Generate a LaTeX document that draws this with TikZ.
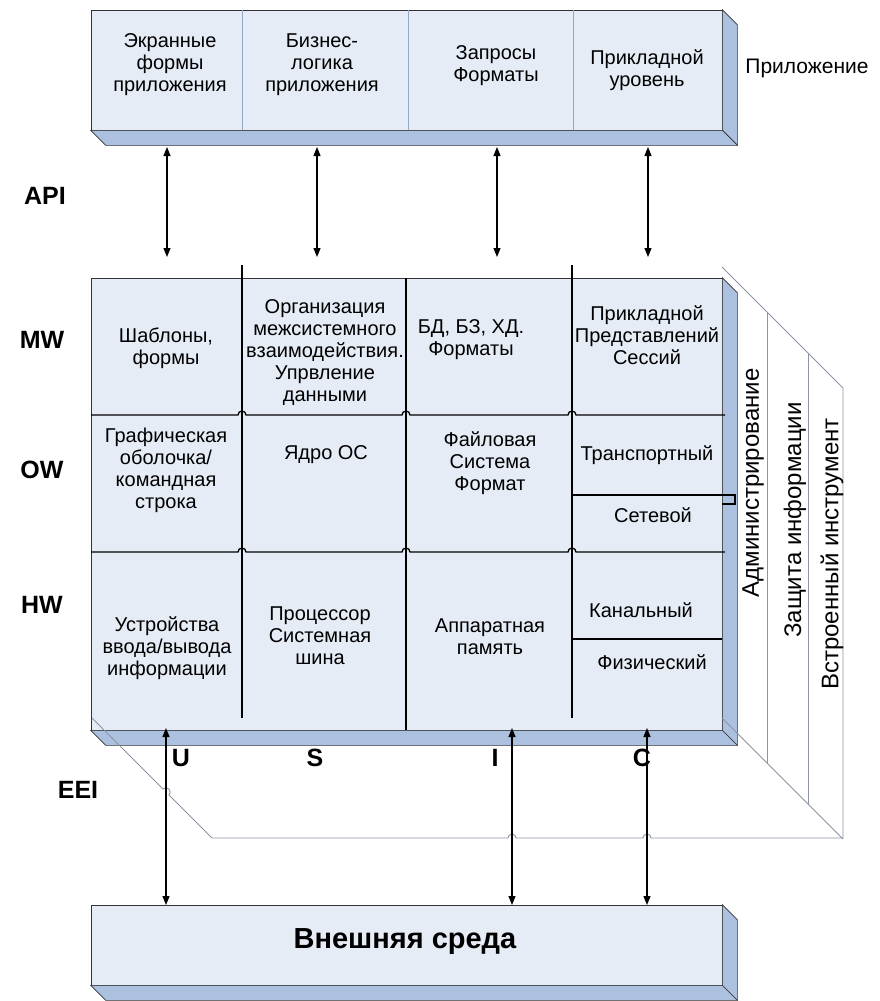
\documentclass[tikz,border=0pt]{standalone}
\usepackage{fontspec}
\setmainfont{Liberation Sans}
\usepackage{tikz}
\usetikzlibrary{positioning,arrows.meta,calc}

\definecolor{facefill}{RGB}{230,236,246}
\definecolor{sidefill}{RGB}{172,193,224}
\definecolor{framegray}{RGB}{140,148,166}
\definecolor{splitblue}{RGB}{150,168,200}

\begin{document}
\begin{tikzpicture}[
  x=1pt, y=-1pt,
  front/.style={rectangle, draw=black!80, line width=0.7pt, fill=facefill,
                minimum width=631pt, inner sep=0pt},
  side/.style={draw=black!80, line width=0.7pt, fill=sidefill},
  cell/.style={font=\fontsize{20}{22}\selectfont, align=center, inner sep=0pt},
  tag/.style={font=\fontsize{25}{28}\selectfont\bfseries, inner sep=0pt},
  vert/.style={font=\fontsize{24}{26}\selectfont, rotate=90, inner sep=0pt},
  link/.style={{Triangle[length=9pt,width=7pt]}-{Triangle[length=9pt,width=7pt]}, line width=1.2pt},
  wall/.style={line width=1.3pt},
  frame/.style={draw=framegray, line width=0.9pt}
]
\useasboundingbox (0,0) rectangle (879,1001);

% Slabs
\node[front, minimum height=120pt] (app) at (406.5,70) {};
\node[front, minimum height=452pt] (stack) at (406.5,504) {};
\node[front, minimum height=80pt] (env) at (406.5,945) {};
\foreach \b in {app,stack,env} {
  \filldraw[side] (\b.north east) -- ++(15,15) -- ($(\b.south east)+(15,15)$) -- (\b.south east) -- cycle;
  \filldraw[side] (\b.south west) -- ++(15,15) -- ($(\b.south east)+(15,15)$) -- (\b.south east) -- cycle;
}

% Application level
\foreach \x in {242,408,573}
  \draw[splitblue, line width=0.8pt] (\x,10) -- (\x,130);
\node[cell] (scr) at (170,65) {Экранные\\формы\\приложения};
\node[cell] (biz) at (322,65) {Бизнес-\\логика\\приложения};
\node[cell] (qry) at (496,66) {Запросы\\Форматы};
\node[cell] (apl) at (647,70) {Прикладной\\уровень};
\node[font=\fontsize{21}{24}\selectfont] (applbl) at (807,68) {Приложение};

% Grid of the system
\draw[wall] (242,265) -- (242,718);
\draw[wall] (406,278) -- (406,730);
\draw[wall] (572,265) -- (572,718);
\draw[wall] (91,415) -- (238,415) arc[start angle=180, end angle=360, radius=4]
  -- (402,415) arc[start angle=180, end angle=360, radius=4]
  -- (568,415) arc[start angle=180, end angle=360, radius=4] -- (725,415);
\draw[wall] (91,552) -- (238,552) arc[start angle=180, end angle=360, radius=4]
  -- (402,552) arc[start angle=180, end angle=360, radius=4]
  -- (568,552) arc[start angle=180, end angle=360, radius=4] -- (725,552);
\draw[wall] (572,495) -- (735,495) -- (735,504) -- (722,504);
\draw[wall] (572,639) -- (722,639);

\node[cell] (tpl) at (166,348) {Шаблоны,\\формы};
\node[cell] (org) at (325,353) {Организация\\межсистемного\\взаимодействия.\\Упрвление\\данными};
\node[cell] (dbs) at (471,340) {БД, БЗ, ХД.\\Форматы};
\node[cell] (ses) at (647,335) {Прикладной\\Представлений\\Сессий};

\node[cell] (gui) at (166,470) {Графическая\\оболочка/\\командная\\строка};
\node[cell] (krn) at (326,455) {Ядро ОС};
\node[cell] (fs)  at (490,463) {Файловая\\Система\\Формат};
\node[cell] (trn) at (647,455) {Транспортный};
\node[cell] (net) at (653,515) {Сетевой};

\node[cell] (io)  at (167,648) {Устройства\\ввода/вывода\\информации};
\node[cell] (cpu) at (320,636) {Процессор\\Системная\\шина};
\node[cell] (mem) at (490,637) {Аппаратная\\память};
\node[cell] (lnk) at (641,610) {Канальный};
\node[cell] (phy) at (652,662) {Физический};

% Side panels
\draw[frame] (722,267) -- (843,388) -- (843,838) -- (651,838)
  arc[start angle=0, end angle=-180, radius=4] -- (516,838)
  arc[start angle=0, end angle=-180, radius=4] -- (212,838) -- (169,795)
  arc[start angle=45, end angle=-135, radius=4.24] -- (92,718);
\draw[frame] (722,718) -- (843,839);
\draw[frame] (767,312) -- (767,763);
\draw[frame] (808,353) -- (808,804);
\node[vert] (adm) at (753,483) {Администрирование};
\node[vert] (sec) at (795,520) {Защита информации};
\node[vert] (ins) at (832,554) {Встроенный инструмент};

% Interfaces
\node[tag] (api) at (45,196) {API};
\node[tag] (mw)  at (42,340) {MW};
\node[tag] (ow)  at (42,470) {OW};
\node[tag] (hw)  at (42,605) {HW};
\node[tag] (eei) at (78,790) {EEI};
\node[tag] (u) at (181,758) {U};
\node[tag] (s) at (315,758) {S};
\node[tag] (i) at (495,758) {I};
\node[tag] (c) at (642,758) {C};

% Arrows
\foreach \x [count=\k] in {167,317,497,648} {
  \coordinate (top\k) at (\x,147);
  \coordinate (mid\k) at (\x,257);
  \draw[link] (top\k) -- (mid\k);
}
\foreach \x [count=\k] in {166,512,647} {
  \coordinate (low\k) at (\x,728);
  \coordinate (ext\k) at (\x,905);
  \draw[link] (low\k) -- (ext\k);
}

\node[font=\fontsize{29}{32}\selectfont\bfseries] (envlbl) at (405,942) {Внешняя среда};

\end{tikzpicture}
\end{document}
